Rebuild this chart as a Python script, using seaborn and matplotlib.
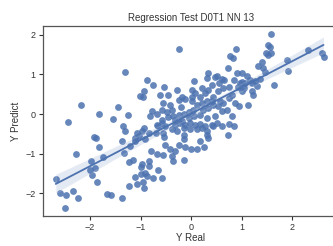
import numpy as np
import pandas as pd
import seaborn as sns
import matplotlib
matplotlib.use("Agg")
import matplotlib.pyplot as plt

# ---------------- DATA ----------------
y_real = [
    -2.68, -2.60, -2.48, -2.49, -2.44, -2.33, -2.28, -2.23, -2.18, -1.98,
    -1.91, -2.00, -1.97, -1.93, -1.88, -1.83, -1.86, -1.82, -1.74, -1.67,
    -1.59, -1.54, -1.44, -1.37, -1.31, -1.34, -1.31, -1.25, -1.37, -1.32,
    -1.23, -1.16, -1.24, -1.21, -1.11, -1.04, -0.98, -1.08, -1.12, -1.12,
    -1.08, -1.00, -0.99, -1.02, -0.96, -0.94, -0.88, -0.95, -0.91, -0.88,
    -0.94, -0.98, -0.94, -0.84, -0.91, -0.84, -0.84, -0.79, -0.75, -0.75,
    -0.78, -0.81, -0.68, -0.68, -0.58, -0.51, -0.68, -0.65, -0.58, -0.55,
    -0.53, -0.61, -0.46, -0.55, -0.42, -0.38, -0.48, -0.58, -0.58, -0.35,
    -0.25, -0.15, -0.05, -0.32, -0.18, -0.55, -0.38, -0.28, -0.32, -0.22,
    -0.12, -0.02, 0.08, 0.18, 0.28, 0.41, 0.51, 0.61, 0.74, 0.84,
    -0.15, -0.02, 0.11, 0.21, 0.31, 0.44, 0.31, 0.34, 0.73, -0.15,
    -0.25, -0.12, 0.00, 0.11, 0.18, -0.42, -0.32, -0.37, -0.35, -0.15,
    -0.25, -0.28, 0.05, 0.01, -0.18, -0.25, -0.12, 0.01, 0.07, 0.34,
    0.31, 0.51, 0.61, 0.55, 0.41, 0.21, 0.28, 0.34, 0.44, 0.54,
    0.64, 0.74, 0.84, 0.90, 0.97, 0.81, 0.74, 0.87, 0.94, 0.11,
    0.21, 0.31, 0.24, 0.34, 0.44, 0.54, 0.64, 0.61, 0.71, 0.81,
    0.48, 0.31, 0.18, 0.05, -0.05, 0.73, 0.77, 0.82, 0.88, 1.00,
    1.10, 1.17, 1.07, 1.20, 1.27, 1.30, 1.37, 1.00, 1.04, 1.20,
    1.23, 1.12, 1.64, 1.40, 1.33, 1.43, 1.47, 1.53, 1.56, 1.48,
    1.58, 1.52, 1.58, 1.89, 1.91, 2.31, 2.59, 2.62, 0.25, -0.15,
    -0.70, -0.65, -0.53, -0.51, -0.46, -0.20, 0.01, 0.04, 0.17, 0.42,
    0.47, 0.57, 0.65, 0.93, 1.00,
]
y_predict = [
    -1.64, -2.00, -2.03, -2.36, -0.20, -1.94, -1.00, -2.12, 0.22, -1.19,
    -1.36, -1.40, -1.54, -0.58, -0.60, 0.00, -1.71, -0.84, -1.09, -2.01,
    -2.04, -0.12, 0.18, -2.11, 1.05, -0.31, -0.42, -0.03, -0.69, -0.98,
    -1.21, -1.17, -1.82, -0.81, -0.69, -0.56, -0.44, -0.48, -0.60, -1.59,
    -1.77, -1.34, -1.52, 0.46, 0.43, 0.59, 0.85, -1.71, -1.48, -1.56,
    -1.86, -1.27, -0.35, -0.48, -0.64, -1.19, -1.31, -0.94, -1.62, 0.74,
    0.07, -0.06, 0.01, -0.27, -0.23, -0.31, -1.00, -1.42, -1.62, -1.04,
    0.68, 0.47, 0.47, 0.28, 0.23, 0.11, 0.04, 0.11, -0.14, -0.06,
    -0.02, 0.01, 0.04, -0.14, -0.18, -0.48, -0.39, -0.44, -0.27, -0.23,
    -0.28, -0.23, -0.27, -0.25, -0.31, -0.28, -0.23, -0.31, -0.25, -0.31,
    -0.35, -0.39, -0.39, -0.35, -0.44, -0.31, -0.52, -0.60, -0.52, -0.64,
    -0.77, -0.84, -0.88, -0.87, -0.69, -0.87, -0.94, -1.06, -1.19, -1.17,
    1.63, 0.61, 0.82, 0.61, 0.43, 0.36, 0.38, 0.44, 0.54, 1.03,
    0.90, 0.95, 0.88, 0.79, 0.74, 0.65, 0.53, 0.61, 0.44, 0.57,
    0.65, 0.69, 0.86, 1.03, 0.78, 0.49, 0.40, 0.28, 0.19, 0.23,
    0.28, 0.32, 0.11, 0.15, 0.23, 0.19, 0.28, 0.07, 0.11, -0.06,
    -0.06, -0.10, -0.02, -0.06, -0.10, 1.15, 1.46, 1.42, 1.65, 1.03,
    0.95, 0.86, 0.78, 0.78, 0.82, 0.71, 0.88, 0.57, 0.65, 0.57,
    0.49, 0.22, 0.72, 1.32, 1.20, 1.15, 1.07, 1.74, 1.68, 1.55,
    1.53, 1.49, 2.02, 1.36, 1.09, 1.62, 1.53, 1.43, -0.83, -0.54,
    -0.49, -0.31, -0.58, -0.79, -0.08, 0.18, 0.34, 0.09, 0.43, 0.34,
    0.93, 0.34, 0.85, 0.68, 0.80,
]
x_ticks = [-2, -1, 0, 1, 2]
y_ticks = [-2, -1, 0, 1, 2]
TITLE = "Regression Test D0T1 NN 13"
# ----------------------------------------------------------------

df = pd.DataFrame({"Y Real": y_real, "Y Predict": y_predict})

sns.set_theme(style="ticks")
plt.rcParams["font.family"] = ["Liberation Sans", "DejaVu Sans"]

fig = plt.figure(figsize=(3.33, 2.46), dpi=100)
# axes run past the right edge, as in the cropped reference
ax = fig.add_axes([0.128, 0.122, 0.889, 0.771])

sns.regplot(data=df, x="Y Real", y="Y Predict", ax=ax, color="#4C72B0",
            scatter_kws={"s": 24, "alpha": 0.85, "linewidths": 0},
            line_kws={"lw": 1.3}, seed=0, truncate=True)

ax.set_xlim(-2.94, 2.92)
ax.set_ylim(-2.57, 2.21)
ax.set_xticks(x_ticks)
ax.set_yticks(y_ticks)
ax.tick_params(labelsize=6.5, length=3, width=0.8, pad=2, colors="#333333")
for s in ax.spines.values():
    s.set_linewidth(0.9)
    s.set_color("#555555")
ax.set_title(TITLE, fontsize=7, color="#333333", pad=4)
ax.set_xlabel("Y Real", fontsize=7, color="#333333", labelpad=1)
ax.set_ylabel("Y Predict", fontsize=7, color="#333333", labelpad=3)

fig.savefig("out.png", dpi=100)
plt.close(fig)
